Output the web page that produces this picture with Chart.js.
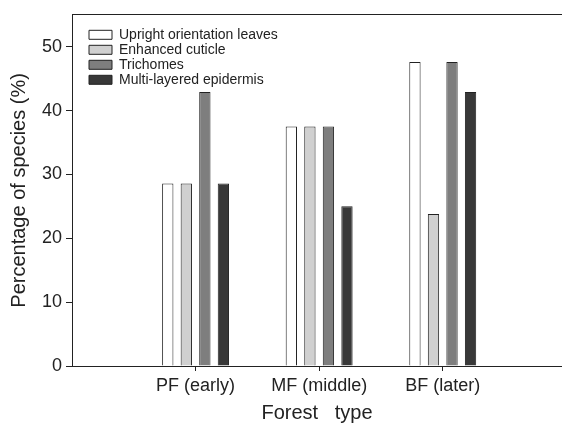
<!DOCTYPE html>
<html>
<head>
<meta charset="utf-8">
<script src="https://cdn.jsdelivr.net/npm/chart.js@4.4.0/dist/chart.umd.min.js"></script>
<style>
	body { margin: 0; background: #fff; }
	#box { width: 562px; height: 423px; }
</style>
</head>
<body>
<div id="box"><canvas id="chart-area-1"></canvas></div>
<script>
var categories = ['PF (early)', 'MF (middle)', 'BF (later)'];
var seriesNames = ['Upright orientation leaves', 'Enhanced cuticle', 'Trichomes', 'Multi-layered epidermis'];
var upright = [28.6, 37.5, 47.6];
var cuticle = [28.6, 37.5, 23.8];
var trichomes = [42.9, 37.5, 47.6];
var epidermis = [28.6, 25.0, 42.9];
var yTicks = [0, 10, 20, 30, 40, 50];

var fillColors = ['#ffffff', '#d0d0d0', '#7e7e7e', '#383838'];
var font = 'Liberation Sans, Arial, sans-serif';

function toPoints(values){
	var pts = [];
	for (var i = 0; i < values.length; i++) {
		pts.push({x: i + 1, y: values[i]});
	}
	return pts;
}

var allSeries = [upright, cuticle, trichomes, epidermis];
var datasets = [];
for (var s = 0; s < allSeries.length; s++) {
	datasets.push({
		label: seriesNames[s],
		data: toPoints(allSeries[s]),
		backgroundColor: fillColors[s],
		borderColor: '#222',
		borderWidth: 1,
		categoryPercentage: 0.6,
		barPercentage: 0.61
	});
}

// put the legend a bit inside the plot, like the original
function placeLegend(chart){
	var lg = chart.legend;
	if (!lg) return;
	var h = lg.bottom - lg.top;
	var w = lg.right - lg.left;
	lg.left = chart.chartArea.left + 16;
	lg.top = chart.chartArea.top + 12;
	lg.right = lg.left + w;
	lg.bottom = lg.top + h;
}
var legendShift = {
	id: 'legendShift',
	afterLayout: placeLegend,
	beforeDraw: placeLegend
};

var ctx = document.getElementById('chart-area-1').getContext('2d');
window.myBar = new Chart(ctx, {
	type: 'bar',
	data: { datasets: datasets },
	plugins: [legendShift],
	options: {
		responsive: true,
		maintainAspectRatio: false,
		animation: false,
		layout: { padding: { top: 10, right: 0, left: 0, bottom: 0 } },
		plugins: {
			tooltip: { enabled: false },
			legend: {
				position: 'chartArea',
				align: 'start',
				labels: {
					boxWidth: 23,
					boxHeight: 9,
					padding: 1,
					color: '#222',
					font: { family: font, size: 14 }
				}
			}
		},
		scales: {
			x: {
				type: 'linear',
				position: 'bottom',
				min: 0,
				max: 3.965,
				offset: false,
				grid: { display: true, drawOnChartArea: false, offset: false, tickLength: 5, color: '#222' },
				border: { color: '#222', width: 1 },
				afterBuildTicks: function(scale){
					scale.ticks = categories.map(function(c, i){ return {value: i + 1}; });
				},
				afterFit: function(scale){ scale.height = 57; },
				ticks: {
					padding: 4,
					maxRotation: 0,
					autoSkip: false,
					color: '#222',
					font: { family: font, size: 18 },
					callback: function(v){ return categories[v - 1]; }
				},
				title: {
					display: true,
					text: 'Forest   type',
					color: '#222',
					padding: { top: 0, bottom: 0 },
					font: { family: font, size: 20, lineHeight: 1 }
				}
			},
			x2: {
				type: 'linear',
				position: 'top',
				display: true,
				grid: { display: false },
				border: { color: '#222', width: 1 },
				ticks: { display: false },
				afterFit: function(scale){ scale.height = 0; }
			},
			y: {
				min: 0,
				max: 55,
				grid: { display: true, drawOnChartArea: false, tickLength: 6, color: '#222' },
				border: { color: '#222', width: 1 },
				afterBuildTicks: function(scale){
					scale.ticks = yTicks.map(function(v){ return {value: v}; });
				},
				afterFit: function(scale){ scale.width = 72; },
				ticks: {
					padding: 4,
					color: '#222',
					font: { family: font, size: 18 }
				},
				title: {
					display: true,
					text: 'Percentage of species (%)',
					color: '#222',
					padding: { top: 7, bottom: 0 },
					font: { family: font, size: 20 }
				}
			}
		}
	}
});
</script>
</body>
</html>
